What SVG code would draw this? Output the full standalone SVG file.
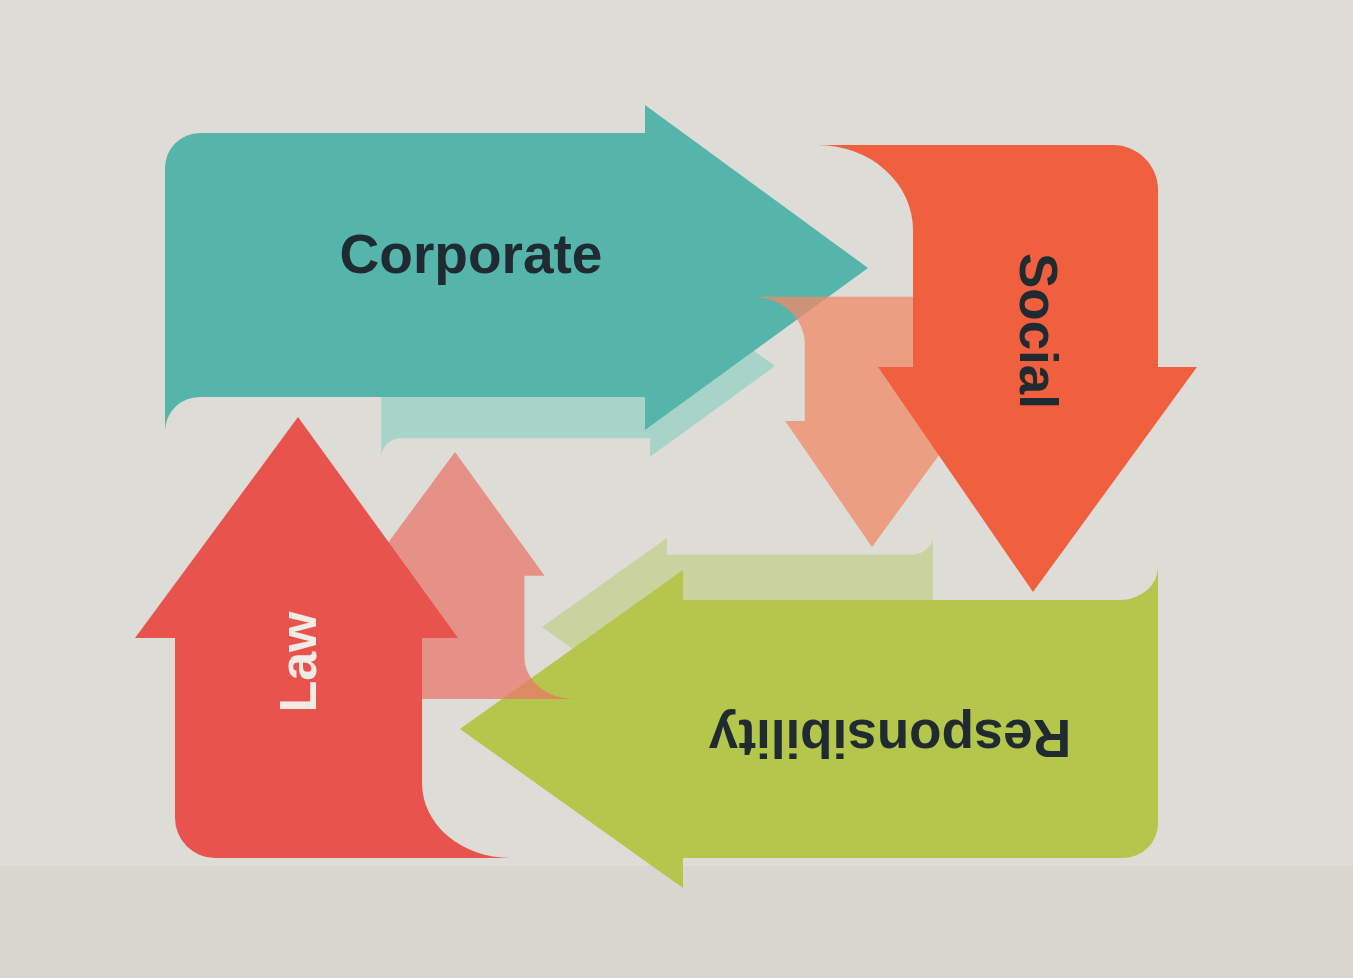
<svg xmlns="http://www.w3.org/2000/svg" xmlns:xlink="http://www.w3.org/1999/xlink" width="1353" height="978" viewBox="0 0 1353 978">
  <style>
    .lbl { font-family: "Liberation Sans", Arial, Helvetica, sans-serif; font-weight: bold; }
    .dark { fill: #1f2a31; }
    .light { fill: #f3ebe6; }
  </style>
  <defs>
    <path id="shp-teal" d="M200,133 H645 V105 L868,268 L645,430 V397 H200 A35,34 0 0 0 165,431 V168 A35,35 0 0 1 200,133 Z"/>
    <path id="shp-social" d="M818,145 H1113 A45,45 0 0 1 1158,190 V367 H1197 L1033,592 L878,367 H913 V230 A95,85 0 0 0 818,145 Z"/>
    <path id="shp-green" d="M1158,567 V823 A35,35 0 0 1 1123,858 H683 V888 L460,729 L683,570 V600 H1120 A38,33 0 0 0 1158,567 Z"/>
    <path id="shp-law" d="M510,858 H215 A40,40 0 0 1 175,818 V638 H135 L298,417 L458,638 H422 V783 A88,75 0 0 0 510,858 Z"/>
  </defs>

  <rect x="0" y="0" width="1353" height="978" fill="#dddcd6"/>
  <rect x="0" y="866" width="1353" height="112" fill="#d8d6cf"/>

  <g id="echo-responsibility">
    <use xlink:href="#shp-green" href="#shp-green" fill="#cad3a0" transform="translate(542,627) scale(0.56) translate(-460,-729)"/>
  </g>
  <g id="echo-corporate">
    <use xlink:href="#shp-teal" href="#shp-teal" fill="#a8d3c9" transform="translate(775,366) scale(0.56) translate(-868,-268)"/>
  </g>

  <g id="node-corporate">
    <use xlink:href="#shp-teal" href="#shp-teal" fill="#55b5ab"/>
    <text class="lbl dark" x="471" y="273" font-size="55" text-anchor="middle">Corporate</text>
  </g>

  <g id="node-responsibility">
    <use xlink:href="#shp-green" href="#shp-green" fill="#b4c64b"/>
    <text class="lbl dark" x="890" y="720" font-size="53" text-anchor="middle" transform="rotate(180 890 720)">Responsibility</text>
  </g>

  <g id="echo-social">
    <use xlink:href="#shp-social" href="#shp-social" fill="#f08a66" opacity="0.75" transform="translate(872,547) scale(0.56) translate(-1033,-592)"/>
  </g>
  <g id="echo-law">
    <use xlink:href="#shp-law" href="#shp-law" fill="#e8786a" opacity="0.75" transform="translate(455,452) scale(0.56) translate(-298,-417)"/>
  </g>

  <g id="node-social">
    <use xlink:href="#shp-social" href="#shp-social" fill="#f0603e"/>
    <text class="lbl dark" x="1020" y="331" font-size="53" text-anchor="middle" transform="rotate(90 1020 331)">Social</text>
  </g>

  <g id="node-law">
    <use xlink:href="#shp-law" href="#shp-law" fill="#e8534e"/>
    <text class="lbl light" x="316" y="662" font-size="52" text-anchor="middle" transform="rotate(-90 316 662)">Law</text>
  </g>

  <g id="connectors"/>
</svg>
